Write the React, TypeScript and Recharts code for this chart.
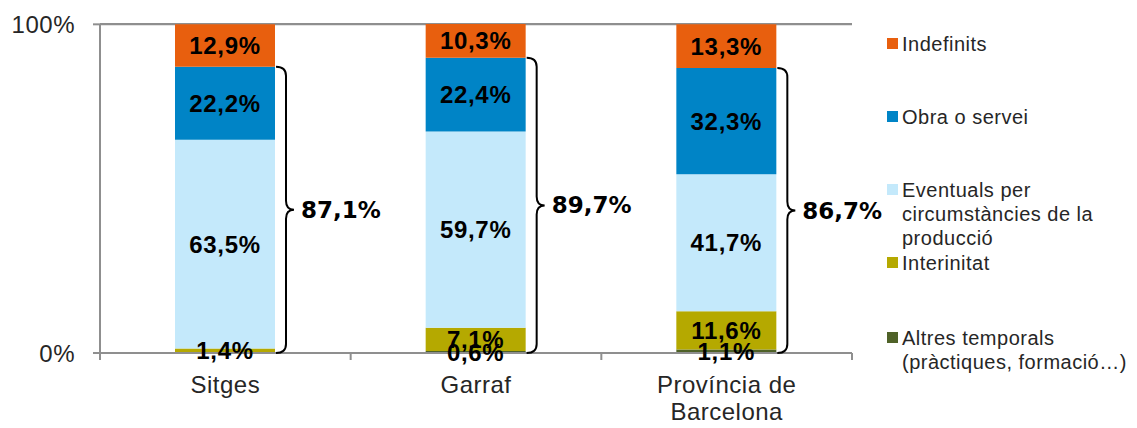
import React from "react";
import { BarChart, Bar, XAxis, YAxis, CartesianGrid, LabelList } from "recharts";

const categories = ["Sitges", "Garraf", "Província de Barcelona"];
const altresTemporals = [0, 0.6, 1.1];
const interinitat = [1.4, 7.1, 11.6];
const eventuals = [63.5, 59.7, 41.7];
const obraServei = [22.2, 22.4, 32.3];
const indefinits = [12.9, 10.3, 13.3];
const temporalTotals = ["87,1%", "89,7%", "86,7%"];
const yTicks = [0, 100];

const series = [
  { key: "altres", name: "Altres temporals (pràctiques, formació…)", values: altresTemporals, color: "#4F6228" },
  { key: "interinitat", name: "Interinitat", values: interinitat, color: "#B5A900" },
  { key: "eventuals", name: "Eventuals per circumstàncies de la producció", values: eventuals, color: "#C4E9FB" },
  { key: "obra", name: "Obra o servei", values: obraServei, color: "#0084C6" },
  { key: "indefinits", name: "Indefinits", values: indefinits, color: "#E85F0E" },
];

const data = categories.map((c, i) => {
  const row: Record<string, any> = { name: c };
  series.forEach((s) => (row[s.key] = s.values[i]));
  return row;
});

const W = 1137;
const H = 428;
const margin = { top: 24, right: 285, bottom: 10, left: 0 };
const Y_AXIS_W = 100;
const BAND = (W - margin.left - margin.right - Y_AXIS_W) / categories.length;
const AXIS = "#8f8f8f";

const fmt = (v: number) => (v ? `${v.toFixed(1).replace(".", ",")}%` : "");

const CategoryTick = (props: any) => {
  const { x, y, payload, index } = props;
  const axisY = y - 9;
  const lines = payload.value === "Província de Barcelona" ? ["Província de", "Barcelona"] : [payload.value];
  return (
    <g>
      <line x1={x - BAND / 2} x2={x - BAND / 2} y1={axisY} y2={axisY + 7} stroke={AXIS} strokeWidth={2} />
      {index === categories.length - 1 && (
        <line x1={x + BAND / 2} x2={x + BAND / 2} y1={axisY} y2={axisY + 7} stroke={AXIS} strokeWidth={2} />
      )}
      <text x={x} y={axisY + 40} textAnchor="middle" fontSize={24} letterSpacing={0.5} fill="#262626">
        {lines.map((l, i) => (
          <tspan key={l} x={x} dy={i === 0 ? 0 : 27}>
            {l}
          </tspan>
        ))}
      </text>
    </g>
  );
};

const Brace = (props: any) => {
  const { x, y, width, height, index } = props;
  const obra = obraServei[index];
  const sum = obra + eventuals[index] + interinitat[index] + altresTemporals[index];
  const top = y;
  const bottom = y + (height / obra) * sum;
  const mid = (top + bottom) / 2;
  const x0 = x + width + 1;
  const x1 = x0 + 10;
  const x2 = x0 + 18;
  const r = 9;
  const d = `M${x0},${top} Q${x1},${top} ${x1},${top + r} L${x1},${mid - r} Q${x1},${mid} ${x2},${mid} Q${x1},${mid} ${x1},${mid + r} L${x1},${bottom - r} Q${x1},${bottom} ${x0},${bottom}`;
  return (
    <g>
      <path d={d} fill="none" stroke="#000" strokeWidth={2} />
      <text
        x={x2 + 7}
        y={mid}
        dominantBaseline="central"
        fontFamily="DejaVu Sans"
        fontWeight="bold"
        fontSize={23}
        fill="#000"
      >
        {temporalTotals[index]}
      </text>
    </g>
  );
};

const legendGaps = [32, 49, 49, 1, 51];

export default function App() {
  const legendItems = [...series].reverse();
  return (
    <div style={{ position: "absolute", left: 0, top: 0, width: W, height: H, fontFamily: "'Liberation Sans', Arial, sans-serif" }}>
      <BarChart width={W} height={H} data={data} margin={margin} barSize={100}>
        <CartesianGrid vertical={false} stroke={AXIS} strokeWidth={2} horizontalPoints={undefined} />
        <XAxis
          dataKey="name"
          axisLine={{ stroke: AXIS, strokeWidth: 2 }}
          tickLine={false}
          tickSize={7}
          tickMargin={2}
          height={65}
          interval={0}
          tick={<CategoryTick />}
        />
        <YAxis
          width={Y_AXIS_W}
          domain={[0, 100]}
          ticks={yTicks}
          tickFormatter={(v) => `${v}%`}
          axisLine={{ stroke: AXIS, strokeWidth: 2 }}
          tickLine={{ stroke: AXIS, strokeWidth: 2 }}
          tickSize={7}
          tickMargin={18}
          tick={{ fontSize: 24, fill: "#262626", letterSpacing: 0.5 }}
        />
        {series.map((s) => (
          <Bar key={s.key} dataKey={s.key} name={s.name} stackId="a" fill={s.color} isAnimationActive={false}>
            <LabelList
              dataKey={s.key}
              position="center"
              formatter={(v: any) => fmt(Number(v))}
              style={{ fontSize: 24, fontWeight: "bold", fill: "#000", letterSpacing: 0.7 }}
            />
            {s.key === "obra" && <LabelList dataKey={s.key} content={<Brace />} />}
          </Bar>
        ))}
      </BarChart>
      <div style={{ position: "absolute", left: 887, top: 0, width: 250, color: "#262626", fontSize: 20, letterSpacing: 0.5, lineHeight: "24px" }}>
        {legendItems.map((s, i) => (
          <div key={s.key} style={{ display: "flex", marginTop: legendGaps[i] }}>
            <div style={{ width: 11, height: 11, background: s.color, marginTop: 6, marginRight: 4, flexShrink: 0 }} />
            <div style={{ width: 225 }}>{s.name}</div>
          </div>
        ))}
      </div>
    </div>
  );
}
